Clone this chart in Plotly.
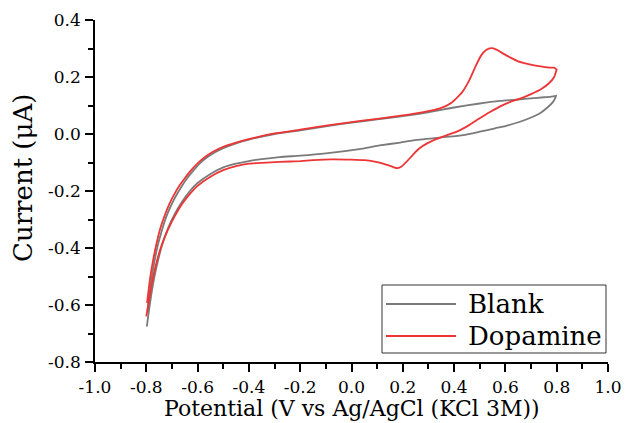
import plotly.graph_objects as go

# Blank CV (forward scan -0.8 -> 0.8, then reverse 0.8 -> -0.8)
blank_fw_x = [-0.795,-0.783,-0.770,-0.755,-0.740,-0.722,-0.703,-0.683,-0.663,-0.643,-0.620,-0.590,-0.560,-0.530,-0.500,-0.450,-0.400,-0.300,-0.200,-0.100,0.000,0.100,0.200,0.300,0.400,0.500,0.580,0.650,0.700,0.750,0.780,0.797]
blank_fw_y = [-0.620,-0.530,-0.455,-0.390,-0.340,-0.290,-0.250,-0.215,-0.185,-0.158,-0.132,-0.102,-0.080,-0.063,-0.050,-0.033,-0.020,0.000,0.013,0.027,0.040,0.051,0.063,0.076,0.093,0.107,0.116,0.121,0.125,0.129,0.131,0.134]
blank_rv_x = [0.797,0.795,0.785,0.765,0.735,0.700,0.657,0.600,0.560,0.500,0.436,0.350,0.240,0.190,0.110,0.030,-0.100,-0.200,-0.280,-0.350,-0.400,-0.450,-0.500,-0.550,-0.600,-0.630,-0.660,-0.690,-0.715,-0.735,-0.752,-0.767,-0.779,-0.789,-0.798]
blank_rv_y = [0.134,0.128,0.112,0.094,0.073,0.058,0.043,0.028,0.020,0.008,-0.004,-0.012,-0.022,-0.030,-0.040,-0.053,-0.068,-0.076,-0.081,-0.088,-0.095,-0.104,-0.117,-0.140,-0.172,-0.200,-0.237,-0.282,-0.330,-0.380,-0.435,-0.495,-0.555,-0.615,-0.676]

# Dopamine CV
dopa_fw_x = [-0.797,-0.786,-0.773,-0.759,-0.745,-0.728,-0.710,-0.690,-0.670,-0.650,-0.630,-0.600,-0.570,-0.540,-0.500,-0.450,-0.400,-0.300,-0.200,-0.100,0.000,0.100,0.200,0.280,0.345,0.390,0.430,0.460,0.485,0.505,0.525,0.545,0.565,0.590,0.620,0.650,0.690,0.730,0.770,0.790,0.800]
dopa_fw_y = [-0.593,-0.512,-0.440,-0.380,-0.330,-0.285,-0.245,-0.210,-0.180,-0.155,-0.132,-0.103,-0.080,-0.062,-0.045,-0.030,-0.018,0.002,0.015,0.029,0.042,0.053,0.065,0.077,0.090,0.110,0.145,0.190,0.240,0.275,0.295,0.301,0.296,0.283,0.268,0.255,0.245,0.238,0.233,0.233,0.226]
dopa_rv_x = [0.800,0.790,0.770,0.740,0.700,0.660,0.620,0.580,0.540,0.500,0.460,0.420,0.370,0.330,0.295,0.265,0.240,0.215,0.195,0.180,0.165,0.145,0.120,0.090,0.050,0.000,-0.080,-0.150,-0.200,-0.280,-0.350,-0.400,-0.450,-0.500,-0.550,-0.600,-0.630,-0.660,-0.690,-0.715,-0.740,-0.760,-0.775,-0.788,-0.800]
dopa_rv_y = [0.226,0.200,0.178,0.158,0.140,0.125,0.113,0.097,0.077,0.055,0.032,0.012,-0.005,-0.018,-0.033,-0.050,-0.072,-0.097,-0.114,-0.120,-0.117,-0.110,-0.103,-0.097,-0.092,-0.090,-0.089,-0.092,-0.095,-0.098,-0.101,-0.104,-0.113,-0.127,-0.150,-0.182,-0.210,-0.245,-0.290,-0.335,-0.390,-0.450,-0.510,-0.575,-0.640]

series_names = ["Blank", "Dopamine"]
series_colors = ["#7a7a7a", "#ee3535"]

x_tick_vals = [-1.0,-0.8,-0.6,-0.4,-0.2,0.0,0.2,0.4,0.6,0.8,1.0]
x_tick_text = ["-1.0","-0.8","-0.6","-0.4","-0.2","0.0","0.2","0.4","0.6","0.8","1.0"]
y_tick_vals = [-0.8,-0.6,-0.4,-0.2,0.0,0.2,0.4]
y_tick_text = ["-0.8","-0.6","-0.4","-0.2","0.0","0.2","0.4"]

FONT = "DejaVu Serif"

fig = go.Figure()
fig.add_trace(go.Scatter(x=blank_fw_x + blank_rv_x, y=blank_fw_y + blank_rv_y, mode="lines",
                         name=series_names[0], showlegend=False,
                         line=dict(color=series_colors[0], width=1.8, shape="spline", smoothing=0.5)))
fig.add_trace(go.Scatter(x=dopa_fw_x + dopa_rv_x, y=dopa_fw_y + dopa_rv_y, mode="lines",
                         name=series_names[1], showlegend=False,
                         line=dict(color=series_colors[1], width=1.8, shape="spline", smoothing=0.5)))

axis_common = dict(showline=True, linecolor="black", linewidth=1.6, ticks="outside", ticklen=8,
                   tickwidth=1.5, tickcolor="black", showgrid=False, zeroline=False, mirror=False,
                   automargin=False, ticklabelstandoff=1,
                   tickfont=dict(family=FONT, size=17, color="black"))

fig.update_xaxes(range=[-1.0, 1.0], tickmode="array", tickvals=x_tick_vals, ticktext=x_tick_text,
                 minor=dict(ticks="outside", dtick=0.1, tick0=0, ticklen=5, tickwidth=1.5, tickcolor="black"),
                 **axis_common)
fig.update_yaxes(range=[-0.8, 0.4], tickmode="array", tickvals=y_tick_vals, ticktext=y_tick_text,
                 minor=dict(ticks="outside", dtick=0.1, tick0=0, ticklen=5, tickwidth=1.5, tickcolor="black"),
                 **axis_common)

# Plot area in pixels: x 95..608, y 20..362
PL, PR, PT, PB = 95, 608, 20, 362
def px(xp): return (xp - PL) / (PR - PL)
def py(yp): return (PB - yp) / (PB - PT)

annotations = [
    dict(text="Potential (V vs Ag/AgCl (KCl 3M))", x=px(352), y=py(408.5), xref="paper", yref="paper",
         xanchor="center", yanchor="middle", showarrow=False,
         font=dict(family=FONT, size=22, color="black")),
    dict(text="Current (μA)", x=px(23), y=py(178), xref="paper", yref="paper", textangle=-90,
         xanchor="center", yanchor="middle", showarrow=False,
         font=dict(family=FONT, size=26, color="black")),
]
shapes = [dict(type="rect", xref="paper", yref="paper", x0=px(382), x1=px(606), y0=py(353), y1=py(285),
               line=dict(color="#333333", width=1), fillcolor="white", layer="above")]
legend_rows = [304, 336]
for name, color, row in zip(series_names, series_colors, legend_rows):
    shapes.append(dict(type="line", xref="paper", yref="paper", x0=px(386), x1=px(456), y0=py(row), y1=py(row),
                       line=dict(color=color, width=1.8), layer="above"))
    annotations.append(dict(text=name, x=px(466), y=py(row), xref="paper", yref="paper",
                            xanchor="left", yanchor="middle", showarrow=False,
                            font=dict(family=FONT, size=26, color="black")))

fig.update_layout(
    width=625, height=423,
    margin=dict(l=PL, r=625 - PR, t=PT, b=423 - PB),
    plot_bgcolor="white", paper_bgcolor="white",
    showlegend=False,
    annotations=annotations, shapes=shapes,
)

fig.write_html("out.html", config={"displayModeBar": False},
               post_script="document.body.style.margin='0';document.body.style.overflow='hidden';")
